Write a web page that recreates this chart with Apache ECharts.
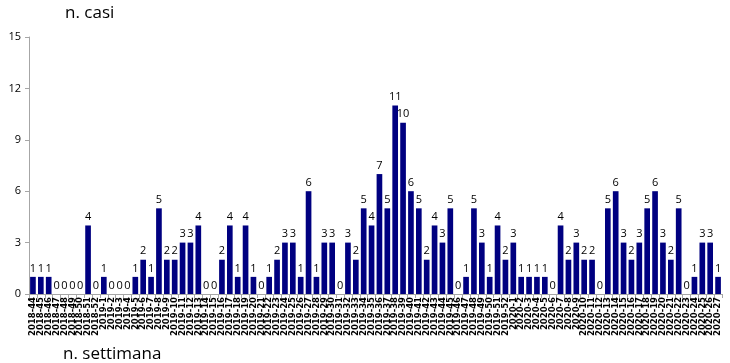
<!DOCTYPE html>
<html>
<head>
<meta charset="utf-8">
<script src="https://cdn.jsdelivr.net/npm/echarts@6/dist/echarts.min.js"></script>
<style>html,body{margin:0;padding:0;background:#fff;}#c{width:730px;height:363px;}</style>
</head>
<body>
<div id="c"></div>
<script>
var weeks2018 = [44,45,46,47,48,49,50,51,52];
var cases2018 = [1,1,1,0,0,0,0,4,0];
var cases2019 = [1,0,0,0,1,2,1,5,2,2,3,3,4,0,0,2,4,1,4,1,0,1,2,3,3,1,6,1,3,3,0,3,2,5,4,7,5,11,10,6,5,2,4,3,5,0,1,5,3,1,4,2];
var cases2020 = [3,1,1,1,1,0,4,2,3,2,2,0,5,6,3,2,3,5,6,3,2,5,0,1,3,3,1];
var yTicks = [0,3,6,9,12,15];

var categories = [];
var values = [];
weeks2018.forEach(function(w,i){ categories.push('2018-' + w); values.push(cases2018[i]); });
cases2019.forEach(function(v,i){ categories.push('2019-' + (i+1)); values.push(v); });
cases2020.forEach(function(v,i){ categories.push('2020-' + (i+1)); values.push(v); });

var chart = echarts.init(document.getElementById('c'), null, {renderer:'canvas'});
chart.setOption({
  animation: false,
  backgroundColor: '#ffffff',
  title: [
    {text: 'n. casi', left: 60, top: 0, textStyle: {fontFamily: 'Open Sans', fontSize: 17, fontWeight: 'normal', color: '#000'}},
    {text: 'n. settimana', left: 58, top: 341, textStyle: {fontFamily: 'Open Sans', fontSize: 17, fontWeight: 'normal', color: '#000'}}
  ],
  grid: {left: 29, right: 8, top: 37, bottom: 69, containLabel: false},
  xAxis: {
    type: 'category',
    data: categories,
    axisLine: {lineStyle: {color: '#a6a6a6', width: 1}},
    axisTick: {show: true, interval: 0, length: 4, lineStyle: {color: '#a6a6a6'}},
    axisLabel: {interval: 0, rotate: 90, margin: 3, fontFamily: 'DejaVu Sans', fontWeight: 'bold', fontSize: 8.5, color: '#000'}
  },
  yAxis: {
    type: 'value',
    min: yTicks[0],
    max: yTicks[yTicks.length-1],
    interval: 3,
    axisLine: {show: true, lineStyle: {color: '#a6a6a6', width: 1}},
    axisTick: {show: true, length: 4, lineStyle: {color: '#a6a6a6'}},
    splitLine: {show: false},
    axisLabel: {margin: 8, fontFamily: 'Open Sans', fontSize: 11, color: '#000'}
  },
  series: [{
    type: 'bar',
    data: values,
    barCategoryGap: '28%',
    itemStyle: {color: '#000080'},
    label: {show: true, position: 'top', distance: 3, fontFamily: 'Open Sans', fontSize: 11, color: '#000'}
  }]
});
</script>
</body>
</html>
